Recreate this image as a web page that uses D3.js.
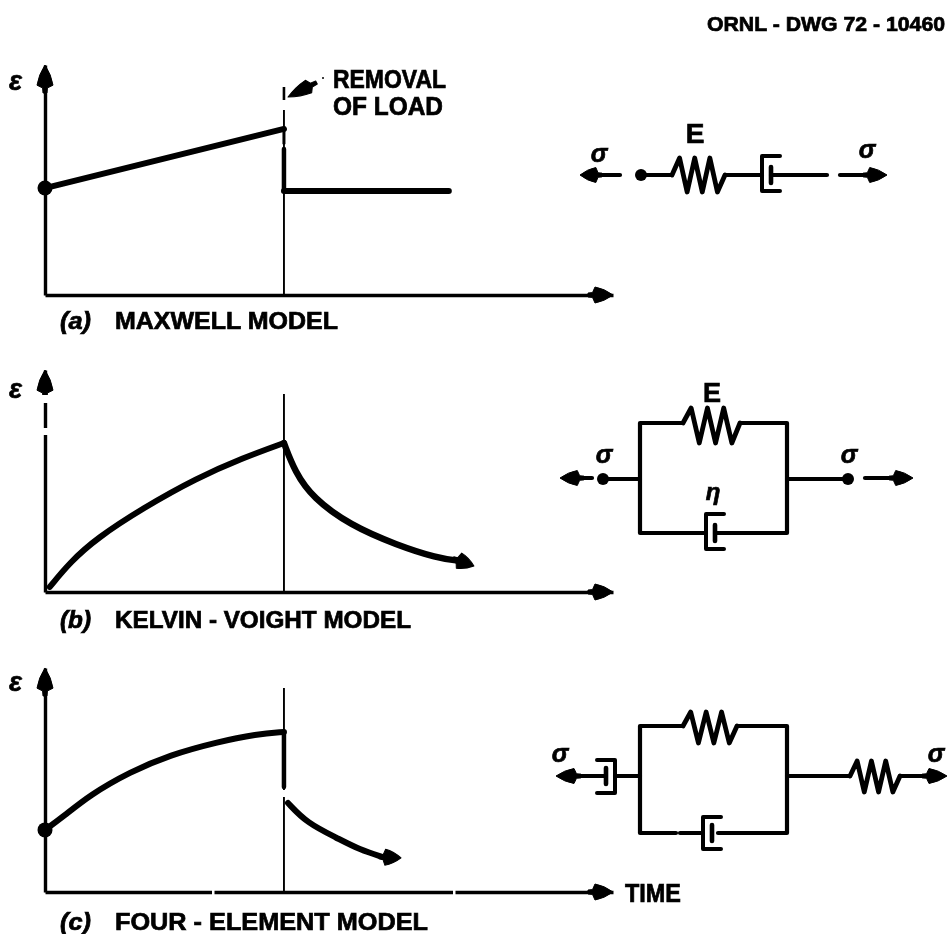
<!DOCTYPE html>
<html>
<head>
<meta charset="utf-8">
<script src="https://cdn.jsdelivr.net/npm/d3@7"></script>
<style>
  html, body { margin: 0; padding: 0; background: #fff; overflow: hidden; }
  text { font-family: "Liberation Sans", Arial, sans-serif; font-weight: bold; fill: #000; }
</style>
</head>
<body>
<div id="SvgCreep"></div>
<script>
var width = 949;
var height = 934;

// time is in units of "load removed at t = 1", strain in percent of 230px of axis
var maxwellTime = [0, 1, 1, 1.69];
var maxwellStrain = [46.5, 72.2, 45.2, 45.2];
var kelvinLoadTime = [0.02, 0.105, 0.218, 0.41, 0.636, 0.828, 1];
var kelvinLoadStrain = [2.2, 13, 23.5, 36.5, 49.6, 58.3, 64.8];
var kelvinFreeTime = [1, 1.046, 1.121, 1.276, 1.473, 1.64, 1.736, 1.795];
var kelvinFreeStrain = [64.8, 52.2, 40.9, 29.1, 20.4, 14.8, 13.5, 11.3];
var fourLoadTime = [0, 0.075, 0.188, 0.356, 0.523, 0.72, 0.887, 1];
var fourLoadStrain = [27, 32.6, 42.2, 52.2, 59.6, 65.2, 68.7, 69.6];
var fourDropTime = [1, 1];
var fourDropStrain = [69.6, 45.6];
var fourFreeTime = [1.017, 1.096, 1.222, 1.318, 1.414, 1.49];
var fourFreeStrain = [38.7, 30, 23.5, 18.3, 15.2, 14.8];

var captionLetters = ["(a)", "(b)", "(c)"];
var captionNames = ["MAXWELL MODEL", "KELVIN - VOIGHT MODEL", "FOUR - ELEMENT MODEL"];
var drawingNumber = "ORNL - DWG 72 - 10460";
var loadNote = ["REMOVAL", "OF LOAD"];

const svg = d3.select("#SvgCreep")
  .append("svg")
  .attr("width", width)
  .attr("height", height)
  .attr("viewBox", [0, 0, width, height])
  .style("display", "block");

const blur = svg.append("defs").append("filter").attr("id", "scan");
blur.append("feGaussianBlur").attr("stdDeviation", 0.35);

const root = svg.append("g").attr("filter", "url(#scan)");

function zip(xs, ys) {
  return xs.map((d, i) => [d, ys[i]]);
}

function stroke(d, w) {
  return root.append("path")
    .attr("d", d)
    .attr("fill", "none")
    .attr("stroke", "#000")
    .attr("stroke-width", w)
    .attr("stroke-linejoin", "round")
    .attr("stroke-linecap", "round");
}

// arrowhead with a bulged body and a short neck, tip at (x, y), along angle (degrees)
function arrowHead(x, y, angle, len, half) {
  const bx = -len * 0.72;
  const cx = -len * 0.35;
  root.append("path")
    .attr("d", "M0,0 Q" + cx + "," + (-half * 0.8) + " " + bx + "," + (-half)
      + " L" + (-len * 0.82) + "," + (-half * 0.3) + " L" + (-len) + "," + (-half * 0.25)
      + " L" + (-len) + "," + (half * 0.25) + " L" + (-len * 0.82) + "," + (half * 0.3)
      + " L" + bx + "," + half + " Q" + cx + "," + (half * 0.8) + " 0,0Z")
    .attr("transform", "translate(" + x + "," + y + ") rotate(" + angle + ")")
    .attr("fill", "#000")
    .attr("stroke", "#000")
    .attr("stroke-linejoin", "round");
}

function label(txt, x, y, size, len, anchor) {
  const t = root.append("text")
    .attr("x", x)
    .attr("y", y)
    .attr("font-size", size)
    .attr("stroke", "#000")
    .attr("stroke-width", 0.7)
    .attr("text-anchor", anchor || "start")
    .text(txt);
  if (len) t.attr("textLength", len).attr("lengthAdjust", "spacingAndGlyphs");
  return t;
}

function drawPanel(p) {
  const x = d3.scaleLinear().domain([0, 2.377]).range([45, 613]);
  const y = d3.scaleLinear().domain([0, 100]).range([p.baseline, p.baseline - 230]);
  const curve = d3.line().x(d => x(d[0])).y(d => y(d[1])).curve(d3.curveBasis);
  const straight = d3.line().x(d => x(d[0])).y(d => y(d[1]));

  // axes: no ticks in the drawing, just the domain lines
  const yShort = y.copy().domain([0, p.axisTop]).range([p.baseline, y(p.axisTop)]);
  const xAxis = root.append("g")
    .attr("transform", "translate(0," + p.baseline + ")")
    .call(d3.axisBottom(x).tickValues([]).tickSizeOuter(0));
  const yAxis = root.append("g")
    .attr("transform", "translate(45,0)")
    .call(d3.axisLeft(yShort).tickValues([]).tickSizeOuter(0));
  xAxis.select(".domain").attr("stroke", "#000").attr("stroke-width", 3.6);
  yAxis.select(".domain").attr("stroke", "#000").attr("stroke-width", 3.4);
  arrowHead(x.range()[1], p.baseline, 0, 25, 8);
  arrowHead(45, y(p.axisTop), -90, 28, 8);

  // the "load removed" marker
  p.marker.forEach(s => stroke("M" + x(1) + "," + s[0] + "V" + s[1], s[2] || 1.9).attr("stroke-linecap", "butt"));

  p.lines.forEach(l => {
    const gen = l.straight ? straight : curve;
    let pts = zip(l.t, l.s);
    if (l.arrow) {
      // last point is the arrow tip, the head follows the last stretch of curve
      const tip = pts[pts.length - 1];
      const prev = pts[pts.length - 2];
      const a = Math.atan2(y(tip[1]) - y(prev[1]), x(tip[0]) - x(prev[0])) * 180 / Math.PI;
      arrowHead(x(tip[0]), y(tip[1]), a, 22, 8);
      pts = pts.slice(0, -1);
    }
    stroke(gen(pts), l.w || 6);
  });
  if (p.startDot !== undefined) {
    root.append("circle").attr("cx", 45).attr("cy", y(p.startDot)).attr("r", 7.5).attr("fill", "#000");
  }
  (p.axisGaps || []).forEach(g => {
    root.append("rect").attr("x", 42).attr("y", g[0]).attr("width", 7).attr("height", g[1]).attr("fill", "#fff");
  });
  (p.baseGaps || []).forEach(g => {
    root.append("rect").attr("x", g).attr("y", p.baseline - 3).attr("width", 2.5).attr("height", 6).attr("fill", "#fff");
  });

  label("\u03b5", 9, p.epsY, 27).attr("font-style", "italic");
  label(p.letter, 60, p.captionY, 23, 31).attr("font-style", "italic");
  label(p.caption, 115, p.captionY, 24, p.captionLen);
}

drawPanel({
  baseline: 295,
  axisTop: 100,
  marker: [[87, 100, 2.6], [110, 295]],
  lines: [
    { t: maxwellTime.slice(0, 2), s: maxwellStrain.slice(0, 2), straight: true },
    { t: maxwellTime.slice(2), s: maxwellStrain.slice(2), straight: true },
    { t: [1, 1], s: [72.2, 66], straight: true, w: 3 },
    { t: [1, 1], s: [63.5, 45.2], straight: true, w: 4.5 }
  ],
  startDot: 46.5,
  epsY: 90,
  letter: captionLetters[0],
  caption: captionNames[0],
  captionY: 329,
  captionLen: 223
});

drawPanel({
  baseline: 592,
  axisTop: 96.5,
  marker: [[394, 592]],
  lines: [
    { t: kelvinLoadTime, s: kelvinLoadStrain },
    { t: kelvinFreeTime, s: kelvinFreeStrain, arrow: true, w: 6.4 }
  ],
  axisGaps: [[395, 8], [428, 7]],
  epsY: 398,
  letter: captionLetters[1],
  caption: captionNames[1],
  captionY: 628,
  captionLen: 296
});

drawPanel({
  baseline: 892,
  axisTop: 97.4,
  marker: [[688, 892]],
  lines: [
    { t: fourLoadTime, s: fourLoadStrain },
    { t: fourDropTime, s: fourDropStrain, straight: true, w: 4.5 },
    { t: fourFreeTime, s: fourFreeStrain, arrow: true }
  ],
  startDot: 27,
  baseGaps: [212, 453],
  epsY: 691,
  letter: captionLetters[2],
  caption: captionNames[2],
  captionY: 930,
  captionLen: 313
});

// white nick where the drop meets the recovery curve
root.append("rect").attr("x", 280).attr("y", 790).attr("width", 9).attr("height", 7).attr("fill", "#fff");

label(drawingNumber, 707, 31, 20, 238);
label(loadNote[0], 333, 88, 25, 113);
label(loadNote[1], 333, 115, 25, 110);
root.append("circle").attr("cx", 323).attr("cy", 78).attr("r", 1).attr("fill", "#000");
arrowHead(288, 97, 153, 32, 7);
label("TIME", 625, 902, 25, 56);

// ---- mechanical analogues ----
var lineW = 4.2;

function spring(x0, x1, y, up, down) {
  // three teeth up and three down, rounded by the line join
  const n = 8;
  const pts = d3.range(n).map(i => {
    const px = x0 + (x1 - x0) * i / (n - 1);
    if (i === 0 || i === n - 1) return [px, y];
    return [px, i % 2 === 1 ? y - up : y + down];
  });
  stroke(d3.line()(pts), 4.8);
}

// bracket opens towards dir (+1 right, -1 left), plate sits inside it
function dashpot(x, y, top, bottom, dir) {
  stroke("M" + (x + 18 * dir) + "," + top + "H" + x + "V" + bottom + "H" + (x + 18 * dir), 4);
  stroke("M" + (x + 9 * dir) + "," + (y - 8) + "V" + (y + 8), 4.6);
}

function sigma(x, y) {
  label("\u03c3", x, y, 25, null, "middle").attr("font-style", "italic");
}

function dot(x, y) {
  root.append("circle").attr("cx", x).attr("cy", y).attr("r", 6).attr("fill", "#000");
}

// (a) series spring and dashpot
stroke("M592,175H620", lineW);
arrowHead(580, 175, 180, 22, 7.5);
sigma(599, 162);
dot(641, 175);
stroke("M641,175H672", lineW);
spring(672, 725, 175, 17, 17);
stroke("M725,175H762", lineW);
dashpot(762, 175, 156, 191, 1);
stroke("M771,175H827", lineW);
stroke("M840,175H870", lineW);
arrowHead(887, 175, 0, 24, 7.5);
sigma(867, 158);
label("E", 695, 143, 28, null, "middle");

// (b) parallel spring and dashpot
stroke("M640,423H683M740,423H787V533H726M706,533H640V423", lineW);
spring(683, 740, 423, 15, 20);
dashpot(706, 533, 514, 549, 1);
stroke("M715,533H730", lineW);
label("E", 712, 402, 27, null, "middle");
label("\u03b7", 713, 500, 24, null, "middle").attr("font-style", "italic");
dot(603, 479);
stroke("M603,479H640M787,479H848", lineW);
dot(848, 479);
arrowHead(560, 478, 180, 24, 7.5);
stroke("M575,478H592", lineW);
stroke("M865,478H895", lineW);
arrowHead(913, 478, 0, 24, 7.5);
sigma(604, 463);
sigma(849, 463);

// (c) four-element model
stroke("M640,726H683M737,726H787V833H718M676,833H640V726", lineW);
spring(683, 737, 726, 14, 17);
dashpot(703, 833, 817, 849, 1);
stroke("M680,833H703", lineW);
dashpot(615, 776, 760, 793, -1);
stroke("M615,776H640M570,776H606M787,776H850", lineW);
spring(850, 900, 776, 15, 16);
stroke("M900,776H925", lineW);
arrowHead(556, 776, 180, 25, 7.5);
arrowHead(947, 776, 0, 25, 7.5);
sigma(560, 762);
sigma(936, 762);
</script>
</body>
</html>
